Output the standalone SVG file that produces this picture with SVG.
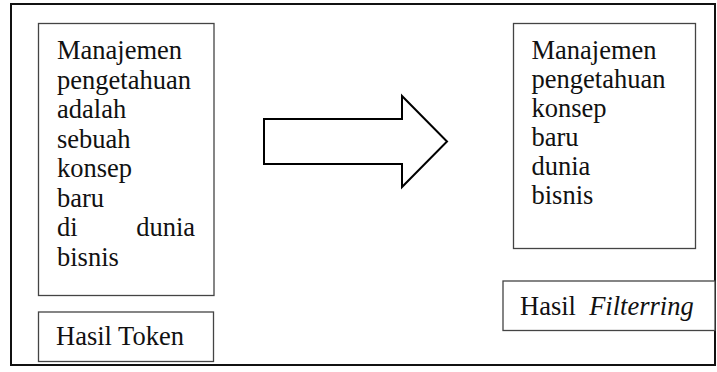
<svg xmlns="http://www.w3.org/2000/svg" width="717" height="372" viewBox="0 0 717 372">
<style>
text{font-family:'Liberation Serif','Times New Roman',Times,serif;font-size:26.5px;fill:#111}
.box{fill:#fff;stroke:#444;stroke-width:1.3}
.frame{fill:#fff;stroke:#111;stroke-width:2}
.arrow{fill:#fff;stroke:#000;stroke-width:2;stroke-linejoin:miter}
</style>
<rect class="frame" x="11" y="4" width="704" height="361"/>
<g id="token-box">
<rect class="box" x="38.5" y="23.5" width="175.5" height="272"/>
<text x="57" y="59">Manajemen</text>
<text x="57" y="88.5">pengetahuan</text>
<text x="57" y="118">adalah</text>
<text x="57" y="147.5">sebuah</text>
<text x="57" y="177">konsep</text>
<text x="57" y="206.5">baru</text>
<text y="236"><tspan x="57">di</tspan><tspan x="195" text-anchor="end">dunia</tspan></text>
<text x="57" y="265.5">bisnis</text>
</g>
<g id="token-label">
<rect class="box" x="38.5" y="312" width="175" height="49.5"/>
<text x="56" y="345">Hasil Token</text>
</g>
<g id="filter-box">
<rect class="box" x="513.5" y="23.5" width="182" height="225"/>
<text x="531.5" y="58.5">Manajemen</text>
<text x="531.5" y="87.5">pengetahuan</text>
<text x="531.5" y="116.5">konsep</text>
<text x="531.5" y="145.5">baru</text>
<text x="531.5" y="174.5">dunia</text>
<text x="531.5" y="203.5">bisnis</text>
</g>
<g id="filter-label">
<rect class="box" x="503" y="281" width="212" height="49.5"/>
<text x="520" y="315" xml:space="preserve">Hasil  <tspan font-style="italic">Filterring</tspan></text>
</g>
<g id="connectors">
<polygon class="arrow" points="264,119 402,119 402,96 447,141.5 402,187 402,164 264,164"/>
</g>
</svg>
